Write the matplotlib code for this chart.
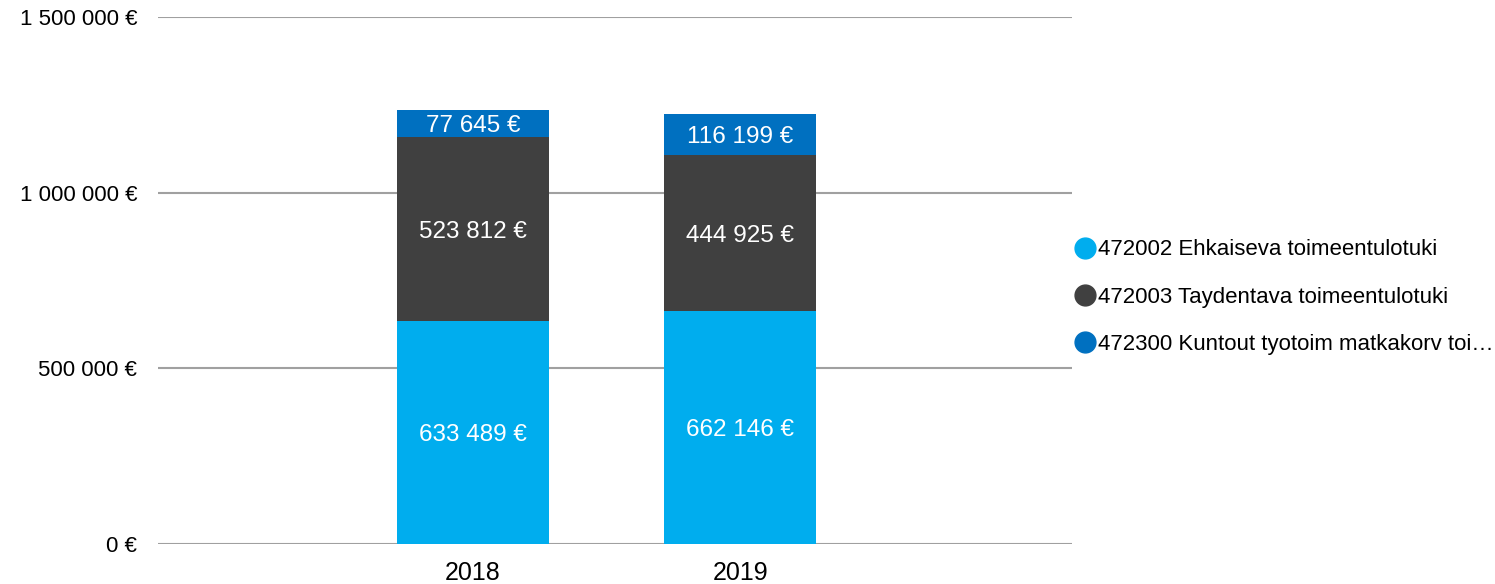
import matplotlib
matplotlib.use("Agg")
import matplotlib.pyplot as plt
from matplotlib.lines import Line2D
from matplotlib.ticker import FuncFormatter
import numpy as np

plt.rcParams['font.family'] = ['Liberation Sans', 'DejaVu Sans']

years = ["2018", "2019"]
series_names = [
    "472002 Ehkaiseva toimeentulotuki",
    "472003 Taydentava toimeentulotuki",
    "472300 Kuntout tyotoim matkakorv toi\u2026",
]
ehkaiseva = [633489, 662146]
taydentava = [523812, 444925]
kuntout = [77645, 116199]
colors = ["#00ADEE", "#404040", "#0070C0"]
y_ticks = [0, 500000, 1000000, 1500000]


def euro(v, pos=None):
    # välilyönti tuhaterottimena
    return f"{int(v):,} €".replace(",", " ")


fig = plt.figure(figsize=(14.95, 5.84), dpi=100)
ax = fig.add_axes([158 / 1495, 40 / 584, (1072 - 158) / 1495, (544 - 17) / 584])

x = np.arange(len(years))
bottom = np.zeros(len(years))
for vals, col in zip([ehkaiseva, taydentava, kuntout], colors):
    vals = np.array(vals, dtype=float)
    ax.bar(x, vals, width=0.57, bottom=bottom, color=col, zorder=2)
    for xi, b, v in zip(x, bottom, vals):
        ax.text(xi, b + v / 2, euro(v), ha="center", va="center_baseline",
                color="white", fontsize=17.5, zorder=3)
    bottom += vals

ax.set_xlim(-1.18, 2.243)
ax.set_ylim(0, 1500000)
ax.set_yticks(y_ticks)
ax.yaxis.set_major_formatter(FuncFormatter(euro))
ax.set_xticks(x)
ax.set_xticklabels(years)
ax.tick_params(axis="both", length=0, colors="black")
ax.tick_params(axis="y", pad=15, labelsize=16)
ax.tick_params(axis="x", pad=12, labelsize=18)
ax.grid(axis="y", color="#A0A0A0", linewidth=1.5, zorder=0)
ax.set_axisbelow(True)
for s in ax.spines.values():
    s.set_visible(False)

handles = [Line2D([], [], marker="o", linestyle="none", markersize=15,
                  markerfacecolor=c, markeredgecolor=c) for c in colors]
fig.legend(handles, series_names, loc="center left",
           bbox_to_anchor=(1062 / 1495, 1 - 297 / 584), frameon=False,
           fontsize=16, handletextpad=-0.1, labelspacing=1.18,
           handlelength=1.3, borderaxespad=0)

fig.savefig("out.png", dpi=100)
